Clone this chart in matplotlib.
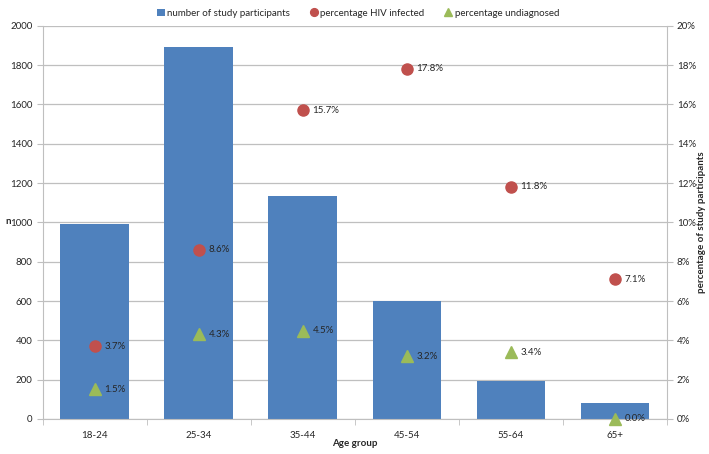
import numpy as np
import matplotlib.pyplot as plt
from matplotlib.ticker import FuncFormatter

plt.rcParams['font.family'] = ['Lato', 'DejaVu Sans']

# data
age_groups = ['18-24', '25-34', '35-44', '45-54', '55-64', '65+']
participants = [990, 1890, 1132, 601, 195, 83]
pct_hiv = [3.7, 8.6, 15.7, 17.8, 11.8, 7.1]
pct_undiag = [1.5, 4.3, 4.5, 3.2, 3.4, 0.0]

blue = '#4F81BD'
red = '#C0504D'
green = '#9BBB59'
grid_c = '#BFBFBF'
txt_c = '#262626'

fig = plt.figure(figsize=(7.09, 4.54), dpi=100)
ax = fig.add_axes([0.0602, 0.0771, 0.8805, 0.8663])
x = np.arange(len(age_groups))

ax.bar(x, participants, width=0.66, color=blue, zorder=2,
       label='number of study participants')
ax.set_ylim(0, 2000)
ax.set_xlim(-0.5, len(age_groups) - 0.5)
ax.set_yticks(np.arange(0, 2001, 200))
ax.yaxis.grid(True, color=grid_c, linewidth=0.9, zorder=0)
ax.set_axisbelow(True)

ax.set_xticks(x)
ax.set_xticklabels(age_groups)
ax.set_xticks(np.arange(-0.5, len(age_groups)), minor=True)
ax.tick_params(axis='x', which='major', length=0, pad=9)
ax.tick_params(axis='x', which='minor', length=4, color=grid_c)
ax.tick_params(axis='y', length=4, color=grid_c)
ax.tick_params(labelsize=7, labelcolor=txt_c)
for s in ['top', 'right']:
    ax.spines[s].set_visible(False)
ax.spines['left'].set_color(grid_c)
ax.spines['bottom'].set_color(grid_c)

# axis titles
fig.text(0.5, 1 - 444 / 454, 'Age group', fontsize=7, fontweight='bold',
         color=txt_c, ha='center', va='center')
fig.text(8 / 709, 1 - 222 / 454, 'n', fontsize=7, fontweight='bold',
         color=txt_c, ha='center', va='center')
fig.text(702 / 709, 1 - 222 / 454, 'percentage of study participants', fontsize=7,
         fontweight='bold', color=txt_c, ha='center', va='center', rotation=90)

ax2 = ax.twinx()
ax2.set_ylim(0, 20)
ax2.set_yticks(np.arange(0, 21, 2))
ax2.yaxis.set_major_formatter(FuncFormatter(lambda v, p: '%d%%' % v))
ax2.tick_params(axis='y', length=4, pad=3, color=grid_c, labelsize=7,
                labelcolor=txt_c)
for s in ['top', 'left', 'bottom']:
    ax2.spines[s].set_visible(False)
ax2.spines['right'].set_color(grid_c)

ax2.plot(x, pct_hiv, 'o', color=red, markersize=8, linestyle='none',
         label='percentage HIV infected', clip_on=False, zorder=3)
ax2.plot(x, pct_undiag, '^', color=green, markersize=9, linestyle='none',
         label='percentage undiagnosed', clip_on=False, zorder=3)

for xi, v in zip(x, pct_hiv):
    ax2.annotate('%.1f%%' % v, (xi, v), xytext=(7, 0), textcoords='offset points',
                 va='center', ha='left', fontsize=7, color=txt_c)
for xi, v in zip(x, pct_undiag):
    ax2.annotate('%.1f%%' % v, (xi, v), xytext=(7, 0), textcoords='offset points',
                 va='center', ha='left', fontsize=7, color=txt_c)

h1, l1 = ax.get_legend_handles_labels()
h2, l2 = ax2.get_legend_handles_labels()
leg = fig.legend(h1 + h2, l1 + l2, loc='upper center', bbox_to_anchor=(0.505, 1.0),
                 ncol=3, frameon=False, fontsize=7, handlelength=0.8,
                 handletextpad=0.3, columnspacing=2.0, markerscale=0.7)
for t in leg.get_texts():
    t.set_color(txt_c)

fig.savefig('out.png', dpi=100)
